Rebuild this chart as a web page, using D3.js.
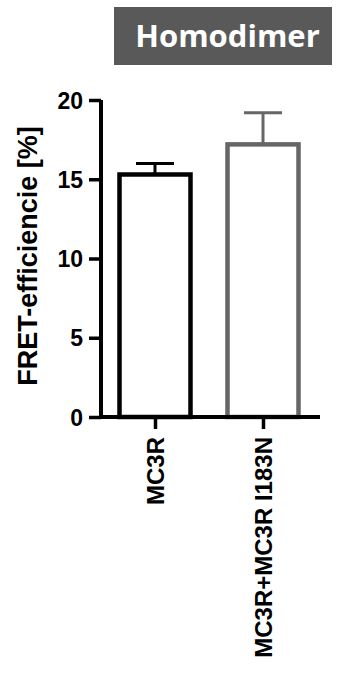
<!DOCTYPE html>
<html><head><meta charset="utf-8">
<script src="https://cdn.jsdelivr.net/npm/d3@7"></script>
<style>html,body{margin:0;padding:0;background:#fff;}svg{display:block;}</style>
</head><body>
<script>
const categories = ["MC3R", "MC3R+MC3R I183N"];
const means = [15.3, 17.2];
const errors = [0.7, 2.0];
const barColors = ["#000000", "#666666"];
const yTicks = [0, 5, 10, 15, 20];
const title = "Homodimer";
const yLabel = "FRET-efficiencie [%]";

const W = 338, H = 675;
const svg = d3.select("body").append("svg").attr("width", W).attr("height", H);

const y = d3.scaleLinear().domain([0, 20]).range([417, 100]);
const x = d3.scalePoint().domain(categories).range([101, 317]).padding(0.5);

// title box
svg.append("rect").attr("x", 114).attr("y", 7).attr("width", 218).attr("height", 58).attr("fill", "#595959");
svg.append("text").attr("x", 227.5).attr("y", 47).attr("text-anchor", "middle")
  .attr("fill", "#fff").attr("font-family", "Open Sans").attr("font-weight", "bold")
  .attr("font-size", 31).text(title);

// bars
const bw = 71;
const g = svg.append("g");
categories.forEach((c, i) => {
  const cx = x(c);
  g.append("rect").attr("x", cx - bw / 2).attr("y", y(means[i]))
    .attr("width", bw).attr("height", y(0) - y(means[i]))
    .attr("fill", "#fff").attr("stroke", barColors[i]).attr("stroke-width", 4.5);
  g.append("line").attr("x1", cx).attr("x2", cx).attr("y1", y(means[i])).attr("y2", y(means[i] + errors[i]))
    .attr("stroke", barColors[i]).attr("stroke-width", 3);
  g.append("line").attr("x1", cx - 19).attr("x2", cx + 19).attr("y1", y(means[i] + errors[i])).attr("y2", y(means[i] + errors[i]))
    .attr("stroke", barColors[i]).attr("stroke-width", 3);
});

// y axis
const ya = svg.append("g").attr("transform", "translate(101,0)")
  .call(d3.axisLeft(y).tickValues(yTicks).tickSize(12).tickSizeOuter(0).tickPadding(6));
ya.select(".domain").attr("stroke", "#000").attr("stroke-width", 4).attr("d", `M0,${y(20)}V${y(0) + 2}`);
ya.selectAll(".tick line").attr("stroke", "#000").attr("stroke-width", 3.5);
ya.selectAll(".tick text").attr("font-family", "Liberation Sans, Arial").attr("font-weight", "bold")
  .attr("font-size", 23).attr("fill", "#000").attr("dy", "0.35em");

// x axis
const xa = svg.append("g").attr("transform", `translate(0,${y(0)})`)
  .call(d3.axisBottom(x).tickSize(12).tickSizeOuter(0).tickPadding(6));
xa.select(".domain").attr("stroke", "#000").attr("stroke-width", 4).attr("d", "M99,0H320");
xa.selectAll(".tick line").attr("stroke", "#000").attr("stroke-width", 3.5);
xa.selectAll(".tick text").attr("font-family", "Liberation Sans, Arial").attr("font-weight", "bold")
  .attr("font-size", 24).attr("fill", "#000")
  .attr("transform", "rotate(-90)").attr("text-anchor", "end")
  .attr("x", -20).attr("y", 0).attr("dy", "0.35em");

// y label
svg.append("text").attr("transform", "translate(37,256) rotate(-90)")
  .attr("text-anchor", "middle").attr("font-family", "Liberation Sans, Arial")
  .attr("font-weight", "bold").attr("font-size", 27).attr("fill", "#000").text(yLabel);
</script>
</body></html>
